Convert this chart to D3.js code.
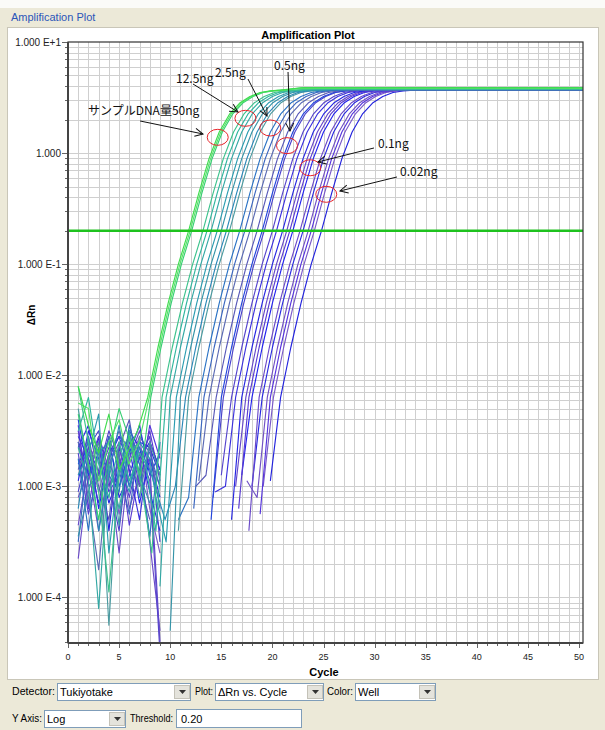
<!DOCTYPE html>
<meta charset="utf-8">
<style>
body { margin: 0; background: #fff; }
svg text { font-family: "Liberation Sans", Arial, sans-serif; }
.grid line { stroke: #cfcfcf; stroke-width: 1; shape-rendering: crispEdges; }
.ui text { font-size: 11px; fill: #000; }
.note text { font-family: "Noto Sans CJK JP", sans-serif; font-size: 12px; fill: #111; }
</style>
<svg width="605" height="730"></svg>
<script src="https://cdn.jsdelivr.net/npm/d3@7"></script>
<script>

// ---- data ----
var xTicks = [0, 5, 10, 15, 20, 25, 30, 35, 40, 45, 50];
var yTickExp = [1, 0, -1, -2, -3, -4];
var yTickLabels = ["1.000 E+1", "1.000", "1.000 E-1", "1.000 E-2", "1.000 E-3", "1.000 E-4"];
var threshold = 0.20;

// cycle at which each well crosses the threshold
var wellCt = [11.8, 11.95, 12.1, 13.2, 13.6, 14.0, 14.6, 15.0, 15.5, 15.8,
              16.8, 17.3, 17.8, 18.5, 19.0, 19.2, 20.0, 20.4, 21.0, 21.4,
              21.7, 22.0, 22.7, 23.0, 23.5, 23.8, 24.1, 24.8];
var wellColor = ["#3fdc4e", "#55e26a", "#36cf72", "#3cc28c", "#2fb69e", "#33a8a4", "#2a9cb0", "#3494a8", "#2a88b8", "#4a9aa0",
                 "#2a72c4", "#3a66c0", "#5a6ab4", "#5858b8", "#2244dd", "#4a42cc", "#5544cc", "#3a30dd", "#2626e2", "#6648c8",
                 "#5a3cd0", "#2222ee", "#6a4ac8", "#2a2ae0", "#7050c4", "#5533dd", "#7a5ac8", "#2222dd"];
// log10 dRn on the plateau
var wellPlateau = [0.588, 0.582, 0.590, 0.578, 0.585, 0.574, 0.580, 0.571, 0.576, 0.583,
                   0.570, 0.575, 0.566, 0.572, 0.568, 0.574, 0.565, 0.570, 0.567, 0.573,
                   0.564, 0.569, 0.572, 0.566, 0.570, 0.563, 0.568, 0.566];
// log10 dRn at cycles Ct-6 and Ct-5 (null = below zero)
var wellTail = [[-2.7, -2.5], [-2.8, -2.6], [-2.6, -2.9], [-3.0, -3.6], [-2.8, -3.4], [null, -3.9], [-3.1, -3.5], [null, -4.3], [-3.3, -3.0], [null, -3.4],
                [-3.3, -3.1], [null, -3.2], [null, -2.95], [-3.0, -2.9], [null, -3.3], [null, -3.1], [null, -2.9], [-3.05, -3.0], [null, -3.3], [null, -3.0],
                [null, -3.2], [null, -2.9], [null, -3.4], [null, -3.0], [-2.95, -3.1], [null, -3.25], [null, -3.0], [null, -2.95]];
// log10 dRn baseline noise, cycles 1..9
var wellNoise = [
  [-2.10, -2.45, -2.70, -2.35, -2.85, -2.60, -2.70, -2.50, -2.60],
  [-2.25, -2.30, -2.95, -2.60, -2.40, -2.75, -2.55, -2.80, -2.65],
  [-2.35, -2.80, -3.30, -2.70, -2.30, -2.90, -2.60, -2.70, -2.80],
  [-2.10, -2.60, -3.05, -3.95, -2.90, -2.55, -2.75, -3.00, -2.80],
  [-2.50, -2.20, -2.80, -3.10, -2.60, -2.95, -2.70, -2.60, -2.90],
  [-2.65, -2.95, -4.10, -2.80, -3.20, -2.70, -2.60, -2.95, -3.10],
  [-2.90, -2.70, -2.35, -3.60, -2.80, -3.05, -2.60, -2.75, -3.00],
  [-3.45, -3.05, -2.70, -2.60, -3.35, -2.50, -2.90, -3.15, -2.70],
  [-3.20, -2.55, -3.40, -2.90, -2.45, -3.00, -2.65, -2.85, -3.30],
  [-2.30, -2.85, -2.60, -4.25, -2.70, -2.55, -3.10, -2.60, -2.90],
  [-2.75, -3.40, -2.65, -2.90, -3.05, -2.45, -2.80, -3.45, -2.60],
  [-3.50, -2.70, -2.95, -2.55, -2.85, -3.25, -2.55, -2.70, -3.00],
  [-2.60, -3.10, -3.75, -2.75, -2.50, -2.80, -3.00, -2.65, -3.20],
  [-2.85, -2.55, -3.00, -3.30, -2.65, -2.40, -2.95, -3.30, null],
  [-2.40, -2.90, -2.70, -2.60, -3.00, -2.70, -2.45, -2.90, -2.70],
  [-3.05, -2.65, -2.50, -2.95, -3.40, -2.60, -2.75, -2.55, -3.50],
  [-2.70, -3.25, -2.85, -2.50, -2.75, -3.10, -2.70, -2.95, -4.50],
  [-2.55, -2.75, -3.15, -2.70, -2.55, -2.85, -3.30, -2.60, -2.85],
  [-2.95, -2.50, -2.75, -3.15, -2.90, -2.50, -2.65, -3.05, -3.40],
  [-3.35, -2.80, -2.55, -2.85, -3.60, -2.75, -2.50, -2.80, -4.40],
  [-2.50, -3.00, -2.90, -2.65, -2.70, -3.35, -2.85, -2.50, -2.95],
  [-2.80, -2.60, -3.20, -2.75, -2.55, -2.65, -3.15, -2.75, -3.10],
  [-3.65, -2.90, -2.60, -3.00, -2.80, -2.55, -2.70, -3.50, -4.30],
  [-2.65, -2.45, -2.90, -2.55, -3.10, -2.90, -2.60, -2.65, -2.90],
  [-3.10, -2.85, -3.40, -2.80, -2.60, -3.20, -2.90, -2.75, -3.00],
  [-2.45, -3.20, -2.65, -3.05, -2.90, -2.55, -3.00, -2.45, -2.75],
  [-2.90, -2.65, -3.05, -2.70, -3.25, -2.80, -2.55, -3.20, -3.60],
  [-2.60, -2.95, -2.55, -3.40, -2.65, -3.00, -2.75, -2.60, -2.85]
];
// typical rise read from the 50ng well: cycles relative to Ct, log10 dRn
var profileOffset = [-4, -3, -2, -1, 0, 1, 2, 3, 4, 5, 6, 7, 8, 9];
var profileLog = [-2.2, -1.75, -1.35, -1.0, -0.7, -0.36, -0.05, 0.19, 0.35, 0.45, 0.51, 0.545, 0.56, 0.567];

// annotations: label, circle [cycle, log10], arrow from / to, label position
var notes = [
  {text: "サンプルDNA量50ng", c: [14.65, 0.142], from: [7.05, 0.289], to: [13.21, 0.172], at: [1.96, 0.343]},
  {text: "12.5ng", c: [17.36, 0.313], from: [12.23, 0.622], to: [16.63, 0.370], at: [10.57, 0.631]},
  {text: "2.5ng", c: [19.79, 0.226], from: [17.61, 0.667], to: [19.47, 0.334], at: [14.38, 0.685]},
  {text: "0.5ng", c: [21.43, 0.067], from: [21.53, 0.730], to: [21.72, 0.199], at: [20.16, 0.748]},
  {text: "0.1ng", c: [23.70, -0.132], from: [29.94, 0.046], to: [24.46, -0.080], at: [30.33, 0.046]},
  {text: "0.02ng", c: [25.27, -0.371], from: [32.19, -0.215], to: [26.61, -0.341], at: [32.49, -0.206]}
];

var svg = d3.select("svg");
var pLeft = 68, pRight = 583, pTop = 42, pBottom = 643;

var x = d3.scaleLinear().domain([0, 50]).range([pLeft, 579]);
var y = d3.scaleLog().domain([Math.pow(10, -4.41), 10]).range([pBottom, pTop]);
var ly = function(l) { return y(Math.pow(10, l)); };

// ---- window chrome ----
svg.append("rect").attr("width", 605).attr("height", 730).attr("fill", "#ece9d8");
svg.append("rect").attr("width", 605).attr("height", 8).attr("fill", "#fbfbf8");
svg.append("rect").attr("x", 7.5).attr("y", 27.5).attr("width", 591).attr("height", 652)
    .attr("fill", "#fff").attr("stroke", "#c9c6b8");
svg.append("text").attr("x", 11).attr("y", 21).attr("font-size", 11).attr("fill", "#2b55b8")
    .text("Amplification Plot");

// ---- grid ----
var grid = svg.append("g").attr("class", "grid");
grid.selectAll(".v").data(d3.range(1, 51)).enter().append("line")
    .attr("x1", function(d) { return Math.round(x(d)) + 0.5; })
    .attr("x2", function(d) { return Math.round(x(d)) + 0.5; })
    .attr("y1", pTop).attr("y2", pBottom);

var yGrid = [];
d3.range(-5, 1).forEach(function(k) {
  d3.range(1, 10).forEach(function(m) {
    var v = m * Math.pow(10, k);
    if (v > y.domain()[0] && v < 10) yGrid.push(v);
  });
});
grid.selectAll(".h").data(yGrid).enter().append("line")
    .attr("x1", pLeft).attr("x2", pRight)
    .attr("y1", function(d) { return Math.round(y(d)) + 0.5; })
    .attr("y2", function(d) { return Math.round(y(d)) + 0.5; });

// ---- axes ----
var ax = svg.append("g");
ax.selectAll(".yt").data(yGrid.concat([10])).enter().append("line")
    .attr("x1", function(d) { return Math.abs(Math.log10(d) % 1) < 1e-9 ? pLeft - 6 : pLeft - 3; })
    .attr("x2", pLeft)
    .attr("y1", function(d) { return Math.round(y(d)) + 0.5; })
    .attr("y2", function(d) { return Math.round(y(d)) + 0.5; })
    .attr("stroke", "#666");
ax.selectAll(".yl").data(yTickExp).enter().append("text")
    .attr("x", pLeft - 7)
    .attr("y", function(d) { return y(Math.pow(10, d)) + 3.5; })
    .attr("text-anchor", "end").attr("font-size", 10).attr("fill", "#222")
    .text(function(d, i) { return yTickLabels[i]; });

ax.selectAll(".xt").data(d3.range(0, 51)).enter().append("line")
    .attr("x1", function(d) { return Math.round(x(d)) + 0.5; })
    .attr("x2", function(d) { return Math.round(x(d)) + 0.5; })
    .attr("y1", pBottom).attr("y2", function(d) { return d % 5 ? pBottom + 3 : pBottom + 5; })
    .attr("stroke", "#666");
ax.selectAll(".xl").data(xTicks).enter().append("text")
    .attr("x", function(d) { return x(d); }).attr("y", pBottom + 17)
    .attr("text-anchor", "middle").attr("font-size", 9).attr("fill", "#222")
    .text(function(d) { return d; });

svg.append("text").attr("x", 308).attr("y", 39).attr("text-anchor", "middle")
    .attr("font-size", 11).attr("font-weight", "bold").text("Amplification Plot");
svg.append("text").attr("x", 324).attr("y", 676).attr("text-anchor", "middle")
    .attr("font-size", 11).attr("font-weight", "bold").text("Cycle");
svg.append("text").attr("transform", "translate(35,315) rotate(-90)").attr("text-anchor", "middle")
    .attr("font-size", 10).attr("font-weight", "bold").text("ΔRn");

// ---- curves ----
svg.append("clipPath").attr("id", "clip").append("rect")
    .attr("x", pLeft).attr("y", pTop).attr("width", pRight - pLeft).attr("height", pBottom - pTop);

var wells = wellCt.map(function(ct, i) {
  var pts = [];
  wellNoise[i].forEach(function(v, j) {
    var c = j + 1;
    if (c < ct - 6.5) pts.push(v == null ? null : [c, v]);
  });
  if (ct - 6 > 10) pts.push(null);
  pts.push(wellTail[i][0] == null ? null : [ct - 6, wellTail[i][0]]);
  pts.push(wellTail[i][1] == null ? null : [ct - 5, wellTail[i][1]]);
  profileOffset.forEach(function(o, k) { pts.push([ct + o, profileLog[k]]); });
  pts.push([ct + 11, wellPlateau[i]]);
  pts.push([51, wellPlateau[i]]);
  return {color: wellColor[i], pts: pts};
}).reverse();

var line = d3.line()
    .defined(function(d) { return d != null; })
    .x(function(d) { return x(d[0]); })
    .y(function(d) { return ly(d[1]); });

svg.append("g").attr("clip-path", "url(#clip)")
  .selectAll("path").data(wells).enter().append("path")
    .attr("d", function(d) { return line(d.pts); })
    .attr("fill", "none").attr("stroke", function(d) { return d.color; })
    .attr("stroke-width", 1.15).attr("stroke-linejoin", "round");

// threshold
svg.append("line").attr("x1", pLeft).attr("x2", pRight)
    .attr("y1", y(threshold)).attr("y2", y(threshold))
    .attr("stroke", "#1ec21e").attr("stroke-width", 2.5);

// frame
svg.append("rect").attr("x", pLeft).attr("y", pTop).attr("width", pRight - pLeft).attr("height", pBottom - pTop)
    .attr("fill", "none").attr("stroke", "#333").attr("stroke-width", 1.2);
svg.append("line").attr("x1", pLeft).attr("x2", pLeft).attr("y1", pTop).attr("y2", pBottom)
    .attr("stroke", "#444").attr("stroke-width", 2);
svg.append("line").attr("x1", pLeft).attr("x2", pRight).attr("y1", pBottom).attr("y2", pBottom)
    .attr("stroke", "#444").attr("stroke-width", 2);

// ---- annotations ----
svg.append("defs").append("marker").attr("id", "arr")
    .attr("viewBox", "-9 -5 10 10").attr("markerWidth", 10).attr("markerHeight", 10)
    .attr("refX", 0).attr("refY", 0).attr("orient", "auto").attr("markerUnits", "userSpaceOnUse")
  .append("path").attr("d", "M-8,-4L0,0L-8,4").attr("fill", "none").attr("stroke", "#111");

var note = svg.append("g").attr("class", "note").selectAll("g").data(notes).enter().append("g");
note.append("ellipse")
    .attr("cx", function(d) { return x(d.c[0]); }).attr("cy", function(d) { return ly(d.c[1]); })
    .attr("rx", 10.5).attr("ry", 8).attr("fill", "none").attr("stroke", "#e8242a").attr("stroke-width", 1);
note.append("line")
    .attr("x1", function(d) { return x(d.from[0]); }).attr("y1", function(d) { return ly(d.from[1]); })
    .attr("x2", function(d) { return x(d.to[0]); }).attr("y2", function(d) { return ly(d.to[1]); })
    .attr("stroke", "#111").attr("marker-end", "url(#arr)");
note.append("text")
    .attr("x", function(d) { return x(d.at[0]); }).attr("y", function(d) { return ly(d.at[1]); })
    .text(function(d) { return d.text; });

// ---- bottom controls ----
var ui = svg.append("g").attr("class", "ui");
function combo(x0, y0, w, h, label) {
  ui.append("rect").attr("x", x0 + 0.5).attr("y", y0 + 0.5).attr("width", w).attr("height", h)
      .attr("fill", "#fff").attr("stroke", "#7f9db9");
  ui.append("rect").attr("x", x0 + w - 15.5).attr("y", y0 + 2.5).attr("width", 15).attr("height", h - 4)
      .attr("fill", "#e4e3dc").attr("stroke", "#c4c2b8");
  ui.append("path").attr("d", "M" + (x0 + w - 11) + "," + (y0 + h / 2 - 1.5) + "h7l-3.5,4z").attr("fill", "#333");
  ui.append("text").attr("x", x0 + 3).attr("y", y0 + h / 2 + 4).text(label);
}
function label(x0, y0, t, w) {
  ui.append("text").attr("x", x0).attr("y", y0).attr("textLength", w)
      .attr("lengthAdjust", "spacingAndGlyphs").text(t);
}

label(12, 695, "Detector:", 43);
combo(57, 683, 133, 17, "Tukiyotake");
label(195, 695, "Plot:", 18);
combo(215, 683, 108, 17, "ΔRn vs. Cycle");
label(327, 695, "Color:", 26);
combo(355, 683, 80, 17, "Well");
label(12, 722, "Y Axis:", 30);
combo(44, 710, 81, 17, "Log");
label(130, 722, "Threshold:", 43);
ui.append("rect").attr("x", 176.5).attr("y", 709.5).attr("width", 125).attr("height", 18)
    .attr("fill", "#fff").attr("stroke", "#7f9db9");
ui.append("text").attr("x", 181).attr("y", 723).attr("font-size", 12).text("0.20");

</script>
